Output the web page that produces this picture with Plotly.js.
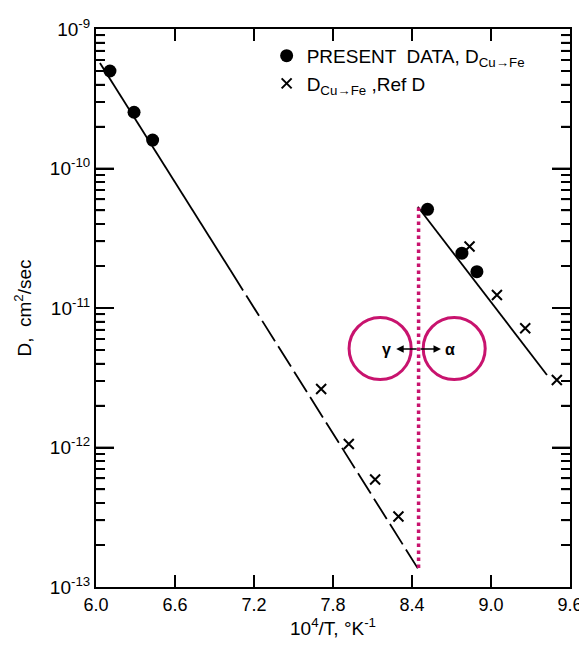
<!DOCTYPE html>
<html>
<head>
<meta charset="utf-8">
<script src="https://cdn.plot.ly/plotly-3.0.1.min.js"></script>
<style>html,body{margin:0;padding:0;background:#fff;}#chart{position:relative;width:579px;height:648px;}</style>
</head>
<body>
<div id="chart"></div>
<script>
// ---- data ----
const presentX = [6.106, 6.289, 6.43, 8.518, 8.779, 8.893];
const presentY = [5.0e-10, 2.53e-10, 1.6e-10, 5.1e-11, 2.47e-11, 1.82e-11];

const refX = [7.71, 7.92, 8.12, 8.297, 8.837, 9.045, 9.26, 9.50];
const refY = [2.63e-12, 1.06e-12, 5.9e-13, 3.2e-13, 2.76e-11, 1.24e-11, 7.15e-12, 3.05e-12];

// gamma-phase fit line (solid part, then dashed extrapolation)
const gammaSolidX = [6.03, 7.02];
const gammaSolidY = [5.7e-10, 1.87e-11];
const gammaDashX = [7.02, 8.444];
const gammaDashY = [1.87e-11, 1.36e-13];

// alpha-phase fit line
const alphaX = [8.444, 9.425];
const alphaY = [5.32e-11, 3.31e-12];

// gamma/alpha transition (dotted pink line)
const transX = 8.45;
const transY = [1.37e-13, 5.3e-11];

const xTicks = [6.0, 6.6, 7.2, 7.8, 8.4, 9.0, 9.6];
const xTickText = ['6.0', '6.6', '7.2', '7.8', '8.4', '9.0', '9.6'];
const yTicks = [1e-13, 1e-12, 1e-11, 1e-10, 1e-9];
const yTickText = ['10<sup>-13</sup>', '10<sup>-12</sup>', '10<sup>-11</sup>', '10<sup>-10</sup>', '10<sup>-9</sup>'];

// ---- styling ----
const PINK = '#c8136e';
const FONT = 'Liberation Sans, Arial, sans-serif';

const minorVals = [];
for (let e = -13; e < -9; e++) {
  for (let m = 2; m <= 9; m++) minorVals.push(m * Math.pow(10, e));
}

const traces = [
  {x: gammaSolidX, y: gammaSolidY, mode: 'lines', line: {color: '#000', width: 1.8}, showlegend: false},
  {x: gammaDashX, y: gammaDashY, mode: 'lines', line: {color: '#000', width: 1.8, dash: '24px,6px'}, showlegend: false},
  {x: alphaX, y: alphaY, mode: 'lines', line: {color: '#000', width: 1.8}, showlegend: false},
  {x: presentX, y: presentY, mode: 'markers', name: 'PRESENT  DATA, D<sub>Cu\u2192Fe</sub>',
   marker: {symbol: 'circle', size: 13, color: '#000'}},
  {x: refX, y: refY, mode: 'markers', name: 'D<sub>Cu\u2192Fe</sub> ,Ref D',
   marker: {symbol: 'x-thin', size: 10, color: '#000', line: {color: '#000', width: 2}}}
];

const circleG = {x0: 7.922, x1: 8.394, y0: 3.07e-12, y1: 8.55e-12};
const circleA = {x0: 8.485, x1: 8.956, y0: 3.07e-12, y1: 8.55e-12};

const layout = {
  width: 579, height: 648,
  margin: {l: 96, r: 9, t: 29, b: 61},
  paper_bgcolor: '#fff', plot_bgcolor: '#fff',
  font: {family: FONT, size: 18, color: '#000'},
  showlegend: true,
  legend: {x: 0.36, y: 0.986, xanchor: 'left', yanchor: 'top', bgcolor: 'rgba(0,0,0,0)',
           font: {family: FONT, size: 19, color: '#000'}},
  xaxis: {
    range: [6.0, 9.6], tickmode: 'array', tickvals: xTicks, ticktext: xTickText,
    ticks: 'inside', ticklen: 12, tickwidth: 1.8, tickcolor: '#000',
    showline: true, linewidth: 2, linecolor: '#000', mirror: 'ticks',
    showgrid: false, zeroline: false, ticklabeloverflow: 'allow',
    tickfont: {family: FONT, size: 18, color: '#000'},
    title: {text: '10<sup>4</sup>/T, \u00b0K<sup>-1</sup>', font: {family: FONT, size: 19, color: '#000'}, standoff: 8}
  },
  yaxis: {
    type: 'log', range: [-13, -9], tickmode: 'array', tickvals: yTicks, ticktext: yTickText,
    ticks: 'inside', ticklen: 18, tickwidth: 1.8, tickcolor: '#000',
    minor: {ticks: 'inside', ticklen: 9, tickwidth: 1.5, tickcolor: '#000', dtick: 'D1', showgrid: false},
    showline: true, linewidth: 2, linecolor: '#000', mirror: 'ticks',
    showgrid: false, zeroline: false,
    tickfont: {family: FONT, size: 19, color: '#000'},
    title: {text: 'D,  cm<sup>2</sup>/sec', font: {family: FONT, size: 19, color: '#000'}, standoff: 13}
  },
  shapes: [
    {type: 'line', xref: 'x', yref: 'y', x0: transX, x1: transX, y0: transY[0], y1: transY[1],
     line: {color: PINK, width: 3.5, dash: 'dot'}},
    Object.assign({type: 'circle', xref: 'x', yref: 'y', line: {color: PINK, width: 3}}, circleG),
    Object.assign({type: 'circle', xref: 'x', yref: 'y', line: {color: PINK, width: 3}}, circleA)
  ],
  annotations: [
    {x: 8.28, y: -11.294, xref: 'x', yref: 'y', text: '', showarrow: true, ax: 22, ay: 0,
     arrowhead: 2, arrowsize: 1, arrowwidth: 1.5, arrowcolor: '#000'},
    {x: 8.62, y: -11.294, xref: 'x', yref: 'y', text: '', showarrow: true, ax: -22, ay: 0,
     arrowhead: 2, arrowsize: 1, arrowwidth: 1.5, arrowcolor: '#000'},
    {x: 8.204, y: -11.294, xref: 'x', yref: 'y', text: '<b>\u03b3</b>', showarrow: false,
     font: {family: FONT, size: 16, color: '#000'}},
    {x: 8.685, y: -11.294, xref: 'x', yref: 'y', text: '<b>\u03b1</b>', showarrow: false,
     font: {family: FONT, size: 16, color: '#000'}}
  ]
};

// Inside tick marks on all four sides, placed with Plotly's own axis scales.
function drawTickOverlay(gd) {
  const fl = gd._fullLayout, xa = fl.xaxis, ya = fl.yaxis;
  const NS = 'http://www.w3.org/2000/svg';
  const svg = document.createElementNS(NS, 'svg');
  svg.setAttribute('width', fl.width);
  svg.setAttribute('height', fl.height);
  svg.style.position = 'absolute';
  svg.style.left = '0px';
  svg.style.top = '0px';
  svg.style.pointerEvents = 'none';
  svg.style.zIndex = '10';
  const L = xa._offset, R = xa._offset + xa._length;
  const T = ya._offset, B = ya._offset + ya._length;
  function seg(x1, y1, x2, y2, w) {
    const l = document.createElementNS(NS, 'line');
    l.setAttribute('x1', x1); l.setAttribute('y1', y1);
    l.setAttribute('x2', x2); l.setAttribute('y2', y2);
    l.setAttribute('stroke', '#000'); l.setAttribute('stroke-width', w);
    svg.appendChild(l);
  }
  xTicks.slice(1, -1).forEach(function(v) {
    const px = L + xa.l2p(v);
    seg(px, B, px, B - 12, 1.8);
    seg(px, T, px, T + 12, 1.8);
  });
  yTicks.slice(1, -1).forEach(function(v) {
    const py = T + ya.l2p(Math.log10(v));
    seg(L, py, L + 18, py, 1.8);
    seg(R, py, R - 18, py, 1.8);
  });
  minorVals.forEach(function(v) {
    const py = T + ya.l2p(Math.log10(v));
    seg(L, py, L + 9, py, 1.4);
    seg(R, py, R - 9, py, 1.4);
  });
  gd.appendChild(svg);
}

Plotly.newPlot('chart', traces, layout, {displayModeBar: false}).then(drawTickOverlay);
</script>
</body>
</html>
